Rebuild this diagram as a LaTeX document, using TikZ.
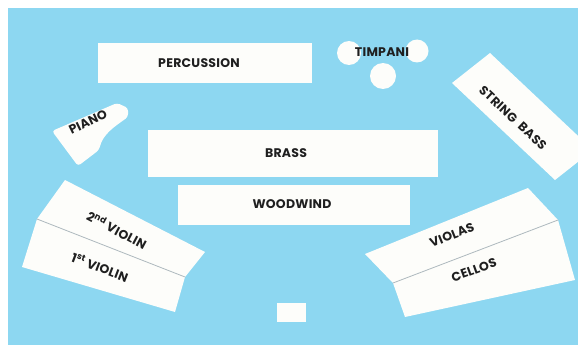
\documentclass[tikz,border=0pt]{standalone}
\usepackage{fontspec}
\newfontfamily\lblfont{Poppins}[LetterSpace=2]
\definecolor{stageblue}{RGB}{141,215,241}
\definecolor{paper}{RGB}{253,253,250}
\definecolor{seam}{RGB}{175,185,190}
\tikzset{
  section/.style={fill=paper, draw=none},
  lbl/.style={font=\lblfont\bfseries\fontsize{12.5}{14}\selectfont, inner sep=0pt, text=black!88},
}
\begin{document}
\begin{tikzpicture}[x=1pt, y=-1pt, line cap=round, line join=round]
				% Page bounds (pixel units, y down)
				\def\xmin{0} \def\xmax{578}
				\def\ymin{0} \def\ymax{345}
				\useasboundingbox (\xmin,\ymin) rectangle (\xmax,\ymax);
				
				% Stage floor
				\fill[stageblue] (8,8) rectangle (\xmax,\ymax);
				
				% Back row: percussion and timpani
				\fill[section] (98,43) rectangle (312,83);
				\fill[section] (349,53) circle (12) (417,51) circle (11.5) (383,76) circle (13);
				
				% Piano, with its curved side
				\fill[section, rounded corners=3pt] (52,131) -- (117,103) -- (128,108) -- (128,117)
					.. controls (114,127) and (103,134) .. (99,150) -- (78,166) -- cycle;
				
				% String bass, cut by the stage edge
				\begin{scope}
					\clip (8,8) rectangle (\xmax,\ymax);
					\fill[section] (452,83) -- (490,53) -- (593,150) -- (555,180) -- cycle;
				\end{scope}
				
				% Brass and woodwind
				\fill[section] (148,130) rectangle (438,177);
				\fill[section] (178,185) rectangle (410,225);
				
				% Violins (left fan)
				\fill[section] (65,180) -- (205,252) -- (185,277) -- (37,219) -- cycle;
				\fill[section] (37,219) -- (185,277) -- (175,312) -- (22,267) -- cycle;
				\draw[seam, line width=0.8pt] (37,219) -- (185,277);
				
				% Violas and cellos (right fan)
				\fill[section] (365,254) -- (528,188) -- (558,220) -- (393,283) -- cycle;
				\fill[section] (393,283) -- (558,220) -- (575,280) -- (405,317) -- cycle;
				\draw[seam, line width=0.8pt] (393,283) -- (558,220);
				
				% Conductor
				\fill[section] (277,303) rectangle (306,322);
				
				% Labels
				\node[lbl] (percussion) at (199,63) {PERCUSSION};
				\node[lbl] (timpani) at (382,52) {TIMPANI};
				\node[lbl, rotate=26] (piano) at (88,122) {PIANO};
				\node[lbl, rotate=-43] (bass) at (513,118) {STRING\hspace{0.5em}BASS};
				\node[lbl] (brass) at (286,153) {BRASS};
				\node[lbl] (woodwind) at (292,204) {WOODWIND};
				\node[lbl, rotate=-28] (violin2) at (117,230) {2\textsuperscript{nd} VIOLIN};
				\node[lbl, rotate=-21] (violin1) at (100,267) {1\textsuperscript{st} VIOLIN};
				\node[lbl, rotate=22] (violas) at (452,235) {VIOLAS};
				\node[lbl, rotate=20] (cellos) at (474,270) {CELLOS};
			\end{tikzpicture}
\end{document}
